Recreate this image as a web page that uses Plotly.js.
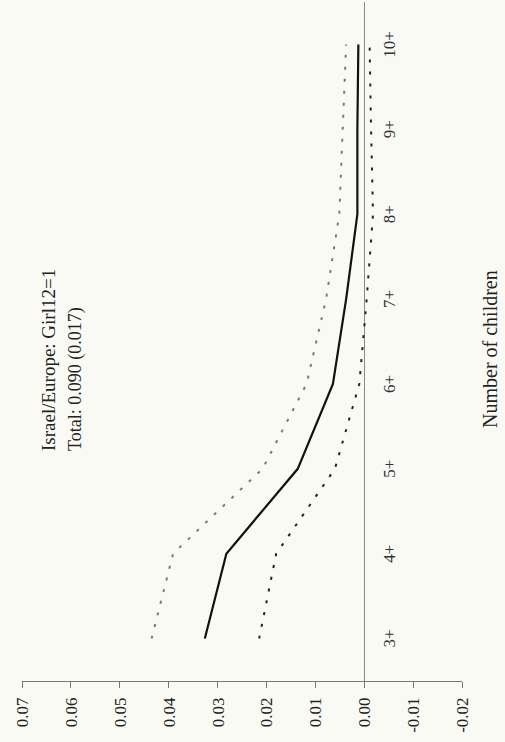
<!DOCTYPE html>
<html>
<head>
<meta charset="utf-8">
<script src="https://cdn.plot.ly/plotly-3.0.1.min.js"></script>
<style>
  html, body { margin: 0; padding: 0; background: #fafaf4; overflow: hidden; width: 505px; height: 742px; }
  /* the figure is laid out landscape and turned a quarter turn to stand upright on the page */
  #chart { position: absolute; left: 0; top: 742px; width: 742px; height: 505px;
           transform-origin: 0 0; transform: rotate(-90deg); }
</style>
</head>
<body>
<div id="chart"></div>
<script>
// Number of children (cumulative categories)
const categories = ['3+', '4+', '5+', '6+', '7+', '8+', '9+', '10+'];
// Point estimate and confidence bounds
const estimate = [0.0326, 0.0282, 0.0136, 0.0064, 0.0037, 0.0014, 0.0014, 0.0012];
const upperBound = [0.0435, 0.0391, 0.0208, 0.0118, 0.0078, 0.0051, 0.0044, 0.0037];
const lowerBound = [0.0215, 0.0180, 0.0060, 0.0010, -0.0005, -0.0018, -0.0014, -0.0011];
// Value axis ticks
const valueTicks = [0.07, 0.06, 0.05, 0.04, 0.03, 0.02, 0.01, 0.00, -0.01, -0.02];
const valueTickLabels = ['0.07', '0.06', '0.05', '0.04', '0.03', '0.02', '0.01', '0.00', '-0.01', '-0.02'];

const serif = 'Liberation Serif, Times New Roman, serif';
const valueMin = -0.02, valueMax = 0.07;
const zeroFrac = (0 - valueMin) / (valueMax - valueMin);

const traces = [
  { x: categories, y: upperBound, type: 'scatter', mode: 'lines',
    line: { color: '#7a7a7a', width: 2, dash: '3px,9px' }, hoverinfo: 'y' },
  { x: categories, y: estimate, type: 'scatter', mode: 'lines',
    line: { color: '#111111', width: 2.2 }, hoverinfo: 'y' },
  { x: categories, y: lowerBound, type: 'scatter', mode: 'lines',
    line: { color: '#222222', width: 2, dash: '3px,9px' }, hoverinfo: 'y' }
];

const layout = {
  width: 742, height: 505,
  margin: { l: 61, r: 2, t: 22, b: 43 },
  paper_bgcolor: '#fafaf4', plot_bgcolor: '#fafaf4',
  showlegend: false,
  font: { family: serif, color: '#222', size: 17 },
  xaxis: {
    type: 'category', range: [-0.5, 7.5],
    anchor: 'free', position: zeroFrac,
    showline: false, showgrid: false, zeroline: false,
    ticks: '', ticklabelstandoff: 13,
    tickfont: { family: serif, size: 17, color: '#333' }
  },
  yaxis: {
    range: [valueMin, valueMax],
    tickvals: valueTicks, ticktext: valueTickLabels,
    showline: true, linecolor: '#777', linewidth: 1,
    ticks: 'outside', ticklen: 6, tickcolor: '#777', tickwidth: 1,
    ticklabelstandoff: 6,
    showgrid: false,
    zeroline: true, zerolinecolor: '#8a8a8a', zerolinewidth: 1,
    tickfont: { family: serif, size: 17, color: '#222' }
  },
  annotations: [
    { text: 'Israel/Europe: Girl12=1', xref: 'paper', yref: 'paper',
      x: 0.336, y: 0.939, xanchor: 'left', yanchor: 'middle', showarrow: false,
      font: { family: serif, size: 19, color: '#222' } },
    { text: 'Total: 0.090 (0.017)', xref: 'paper', yref: 'paper',
      x: 0.336, y: 0.878, xanchor: 'left', yanchor: 'middle', showarrow: false,
      font: { family: serif, size: 18, color: '#222' } },
    { text: 'Number of children', xref: 'paper', yref: 'paper',
      x: 0.489, y: -0.064, xanchor: 'center', yanchor: 'middle', showarrow: false,
      font: { family: serif, size: 20, color: '#222' } }
  ]
};

Plotly.newPlot('chart', traces, layout, { displayModeBar: false, staticPlot: true });
</script>
</body>
</html>
